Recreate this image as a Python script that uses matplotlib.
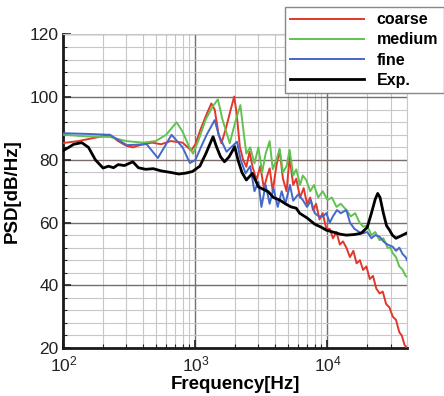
import matplotlib
matplotlib.use("Agg")
import matplotlib.pyplot as plt
from matplotlib.ticker import FixedLocator, NullFormatter, LogLocator

plt.rcParams['font.family'] = ['Liberation Sans', 'DejaVu Sans']
plt.rcParams['mathtext.fontset'] = 'custom'
plt.rcParams['mathtext.rm'] = 'Liberation Sans'
plt.rcParams['mathtext.it'] = 'Liberation Sans'

# ---- data ----
coarse_f = [100, 130, 170, 225, 260, 300, 336, 400, 470, 550, 650, 800, 930, 1000, 1100, 1200,
            1320, 1400, 1500, 1575, 1700, 1850, 1965, 2050, 2170, 2300, 2430, 2570, 2700, 2900,
            3100, 3300, 3500, 3650, 3850, 4100, 4340, 4600, 4900, 5170, 5500, 5800, 6200, 6600,
            7000, 7400, 7770, 8200, 8700, 9200, 9800, 10400, 11000, 11700, 12400, 13100, 13900,
            14800, 15700, 16600, 17600, 18600, 19700, 20900, 22100, 23400, 24800, 26200, 27800,
            29400, 31200, 33000, 35000, 36500, 38300, 40000]
coarse_db = [85.4, 86, 87, 88, 86, 84.5, 84, 85, 85.5, 85, 86, 85.5, 83, 85, 90, 94,
             98, 96, 88, 85.3, 90, 96, 100.2, 95, 84.2, 80, 77.8, 82.6, 78, 73.6,
             78, 71, 75, 77.3, 70, 78, 83.2, 74, 70, 81, 72, 74, 68, 71,
             66, 68, 64, 66, 61, 63, 58, 58, 55, 57, 53, 54, 52,
             49, 51, 47, 48, 44.9, 46, 42, 43, 39, 37.4, 38, 34,
             33, 30, 29, 25, 24, 21, 20]

medium_f = [100, 150, 225, 300, 400, 500, 600, 720, 800, 900, 960, 1050, 1200, 1350, 1480, 1600,
            1820, 2000, 2190, 2300, 2430, 2600, 2800, 3000, 3200, 3400, 3650, 3850, 4100, 4340,
            4600, 4900, 5170, 5500, 5800, 6200, 6500, 6900, 7400, 7900, 8500, 9200, 10000, 10800,
            11700, 12600, 13900, 15000, 16200, 17500, 18600, 20000, 21500, 23000, 24800, 26500,
            28500, 30000, 31200, 33000, 35000, 37000, 39000, 40000]
medium_db = [88, 87.5, 87.3, 86, 85.5, 86, 88, 92, 89, 84, 82, 86, 93, 97, 99.3, 93,
             85.3, 92, 97.5, 90, 82, 84, 78.9, 84, 76, 82, 86, 77, 80, 83.5,
             76, 78, 83.2, 75, 77, 72, 75, 73.6, 70, 72, 68, 70, 67.2, 68,
             65, 66, 64, 62, 63, 60, 58.7, 59, 56, 57, 54.4, 55,
             52, 52, 50.2, 49, 46, 45, 43, 42.7]

fine_f = [100, 150, 225, 303, 427, 520, 660, 800, 908, 1000, 1100, 1216, 1400, 1500, 1720, 2065,
          2200, 2400, 2600, 2800, 3000, 3160, 3400, 3650, 3900, 4200, 4500, 4800, 5200, 5500,
          6000, 6500, 7000, 7500, 8000, 8600, 9200, 9800, 10400, 11000, 11800, 12600, 13900,
          14800, 16000, 17400, 18600, 20000, 21500, 23000, 24800, 26500, 28500, 31200, 33000,
          35000, 37000, 39000, 40000]
fine_db = [88.5, 88.3, 88, 84.7, 85, 80.6, 88, 84, 79, 80, 84, 88, 92.7, 88, 82.6, 85.8,
           80, 75.7, 78, 70, 73, 65, 72, 66, 71, 65, 70, 66, 72, 67,
           69, 67.2, 65, 67, 63, 62, 61.9, 63, 60, 62, 64, 63, 64,
           60, 58, 57, 56.6, 57, 55, 56, 55.5, 54, 53, 52.3, 51,
           52, 50, 49, 48]

exp_f = [100, 110, 120, 138, 155, 175, 200, 220, 240, 260, 290, 336, 370, 420, 480, 550, 650, 750,
         850, 950, 1080, 1200, 1360, 1450, 1550, 1660, 1800, 1985, 2100, 2250, 2430, 2700, 3000,
         3300, 3550, 3900, 4340, 4800, 5300, 5800, 6150, 7000, 8000, 9000, 9780, 11000, 12500,
         13900, 16000, 18000, 20000, 21500, 23000, 24000, 25000, 26500, 28000, 29500, 31000,
         33000, 35000, 37000, 39500]
exp_db = [83, 84, 85, 85.5, 84, 80, 77.4, 78, 77.5, 78.5, 78.2, 79.4, 77.5, 77, 77.2, 76.5, 76, 75.5,
          75.8, 76.3, 78, 82, 87.4, 84, 81, 79.4, 81, 84.2, 80, 76, 73.6, 75.7, 71.4,
          70.5, 69.9, 68, 67.2, 66, 65, 64.6, 63, 61.5, 59.5, 58.5, 57.6, 57, 56.3,
          56, 56.2, 56.6, 58.5, 63, 67.5, 69.3, 68, 63, 59, 57.6, 56,
          55, 55.5, 56, 56.6]

labels = ['coarse', 'medium', 'fine', 'Exp.']
colors = ['#e2372a', '#62c150', '#4468c8', '#000000']
xticks = [1e2, 1e3, 1e4]
xticklabels = [r'$10^{2}$', r'$10^{3}$', r'$10^{4}$']
yticks = [20, 40, 60, 80, 100, 120]

fig = plt.figure(figsize=(4.44, 3.96), dpi=100)
ax = fig.add_axes([0.1426, 0.1212, 0.9167 - 0.1426, 0.9129 - 0.1212])

series = [(coarse_f, coarse_db), (medium_f, medium_db), (fine_f, fine_db), (exp_f, exp_db)]
widths = [1.4, 1.4, 1.4, 2.0]
lines = []
for (f, d), c, lw, lab in zip(series, colors, widths, labels):
    ln, = ax.plot(f, d, color=c, lw=lw, label=lab, zorder=3)
    lines.append(ln)

ax.set_xscale('log')
ax.set_xlim(100, 40000)
ax.set_ylim(20, 120)
ax.set_xticks(xticks)
ax.set_xticklabels(xticklabels)
ax.xaxis.set_minor_locator(LogLocator(base=10, subs=range(2, 10)))
ax.xaxis.set_minor_formatter(NullFormatter())
ax.set_yticks(yticks)
ax.yaxis.set_minor_locator(FixedLocator(range(20, 121, 4)))

ax.grid(which='major', color='#7a6e6a', lw=1.0, zorder=1)
ax.grid(which='minor', color='#c8c8c8', lw=0.8, zorder=1)
ax.tick_params(which='both', direction='in', labelsize=12.5, colors='#222222')
ax.tick_params(which='major', length=6, width=1.2)
ax.tick_params(which='minor', length=3, width=0.8)
ax.tick_params(axis='x', pad=5)
for s in ['left', 'bottom']:
    ax.spines[s].set_linewidth(2.0)
    ax.spines[s].set_color('#1a1a1a')
for s in ['top', 'right']:
    ax.spines[s].set_linewidth(0.8)
    ax.spines[s].set_color('#c8c8c8')

ax.set_xlabel('Frequency[Hz]', fontsize=13.5, fontweight='bold')
ax.xaxis.set_label_coords(0.5, -0.09)
ax.set_ylabel('PSD[dB/Hz]', fontsize=13.5, fontweight='bold')
ax.yaxis.set_label_coords(-0.125, 0.5)

leg = fig.legend(handles=lines, labels=labels, loc='upper right',
                 bbox_to_anchor=(0.999, 0.983),
                 prop={'weight': 'bold', 'size': 11.5},
                 handlelength=4.6, labelspacing=0.32, borderpad=0.35,
                 handletextpad=0.8, fancybox=False, framealpha=1, borderaxespad=0)
leg.get_frame().set_edgecolor('#888888')
leg.get_frame().set_linewidth(1.0)
leg.set_zorder(5)

fig.savefig('out.png', dpi=100)
